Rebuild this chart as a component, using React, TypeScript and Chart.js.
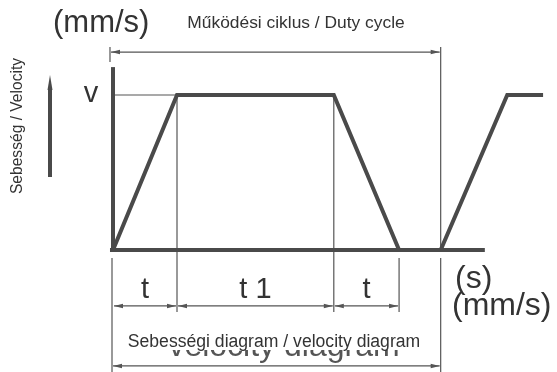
import React, { useEffect, useRef } from 'react';
import { Chart, registerables } from 'chart.js';

Chart.register(...registerables);

// ---- data (time in units of the ramp time t, velocity in units of v) ----
const cycleTimes = [0, 1, 3.45, 4.47];
const cycleVelocity = [0, 1, 1, 0];
const nextTimes = [5.12, 6.16, 6.72];
const nextVelocity = [0, 1, 1];
const axisTime = [0, 0];
const axisVelocity = [0, 1.18];
const baseTime = [-0.047, 5.81];
const baseVelocity = [0, 0];
const phaseBounds = [0, 1, 3.45, 4.47];
const phaseLabels = ['t', 't 1', 't'];
const dutyCycleBounds = [-0.047, 5.12];
const diagramBounds = [0, 5.12];

const titleUnit = '(mm/s)';
const dutyLabel = 'Működési ciklus / Duty cycle';
const yLabel = 'Sebesség / Velocity';
const vLabel = 'v';
const timeUnit = '(s)';
const rightUnit = '(mm/s)';
const diagramLabel = 'Sebességi diagram / velocity diagram';
const ghostLabel = 'velocity diagram';

const THICK = '#4a4a4a';
const THIN = '#555555';
const FONT = '"Liberation Sans", Arial, sans-serif';

const pts = (xs: number[], ys: number[]) => xs.map((x, i) => ({ x, y: ys[i] }));

const diagramPlugin = {
  id: 'diagram',
  beforeDatasetsDraw(chart: any) {
    const { ctx, scales } = chart;
    const X = (t: number) => scales.x.getPixelForValue(t);
    const Y = (v: number) => scales.y.getPixelForValue(v);
    const seg = (x1: number, y1: number, x2: number, y2: number) => {
      ctx.beginPath();
      ctx.moveTo(x1, y1);
      ctx.lineTo(x2, y2);
      ctx.stroke();
    };
    ctx.save();
    ctx.strokeStyle = THIN;
    ctx.lineWidth = 1.2;
    seg(X(0), Y(1), X(1), Y(1));
    seg(X(phaseBounds[1]), Y(1), X(phaseBounds[1]), Y(-0.4));
    seg(X(phaseBounds[2]), Y(1), X(phaseBounds[2]), Y(-0.4));
    seg(X(phaseBounds[3]), Y(-0.052), X(phaseBounds[3]), Y(-0.4));
    seg(X(phaseBounds[0]) - 1, Y(-0.052), X(phaseBounds[0]) - 1, Y(-0.79));
    seg(X(dutyCycleBounds[1]), Y(1.31), X(dutyCycleBounds[1]), Y(0));
    seg(X(dutyCycleBounds[1]), Y(-0.052), X(dutyCycleBounds[1]), Y(-0.79));
    seg(X(dutyCycleBounds[0]), Y(1.31), X(dutyCycleBounds[0]), Y(1.213));
    ctx.restore();
  },
  afterDraw(chart: any) {
    const { ctx, scales } = chart;
    const X = (t: number) => scales.x.getPixelForValue(t);
    const Y = (v: number) => scales.y.getPixelForValue(v);
    const arrowHead = (tipX: number, y: number, dir: number) => {
      ctx.beginPath();
      ctx.moveTo(tipX, y);
      ctx.lineTo(tipX + dir * 9, y - 2.2);
      ctx.lineTo(tipX + dir * 9, y + 2.2);
      ctx.closePath();
      ctx.fill();
    };
    const dimension = (x1: number, x2: number, y: number) => {
      ctx.beginPath();
      ctx.moveTo(x1 + 1, y);
      ctx.lineTo(x2 - 1, y);
      ctx.stroke();
      arrowHead(x1 + 1, y, 1);
      arrowHead(x2 - 1, y, -1);
    };
    ctx.save();
    ctx.strokeStyle = THIN;
    ctx.fillStyle = THIN;
    ctx.lineWidth = 1.2;

    const phaseY = Y(-0.361);
    for (let i = 0; i < phaseLabels.length; i++) {
      dimension(X(phaseBounds[i]), X(phaseBounds[i + 1]), phaseY);
    }
    dimension(X(dutyCycleBounds[0]), X(dutyCycleBounds[1]), Y(1.277));

    ctx.fillStyle = '#333333';
    ctx.textAlign = 'center';
    ctx.textBaseline = 'alphabetic';
    ctx.font = `29px ${FONT}`;
    for (let i = 0; i < phaseLabels.length; i++) {
      const cx = (X(phaseBounds[i]) + X(phaseBounds[i + 1])) / 2;
      ctx.fillText(phaseLabels[i], cx, 298);
    }
    ctx.fillText(vLabel, 91, 102);

    ctx.textAlign = 'left';
    ctx.font = `31px ${FONT}`;
    ctx.fillText(titleUnit, 53, 32);
    ctx.font = `32px ${FONT}`;
    ctx.fillText(timeUnit, 455, 288);
    ctx.fillText(rightUnit, 452, 315);

    ctx.textAlign = 'center';
    ctx.font = `17.4px ${FONT}`;
    ctx.fillText(dutyLabel, 296, 28);

    // ghost text partly hidden behind the label's background
    ctx.fillStyle = '#555555';
    ctx.font = `32px ${FONT}`;
    ctx.fillText(ghostLabel, 284, 356);
    ctx.fillStyle = '#ffffff';
    ctx.fillRect(118, 318, 318, 32);
    ctx.fillStyle = '#333333';
    ctx.font = `17.6px ${FONT}`;
    ctx.fillText(diagramLabel, 274, 347);

    ctx.fillStyle = THIN;
    dimension(X(diagramBounds[0]) - 1, X(diagramBounds[1]), Y(-0.748));

    ctx.save();
    ctx.translate(18, 126);
    ctx.rotate(-Math.PI / 2);
    ctx.fillStyle = '#333333';
    ctx.font = `15.6px ${FONT}`;
    ctx.textBaseline = 'middle';
    ctx.fillText(yLabel, 0, 0);
    ctx.restore();

    ctx.strokeStyle = THICK;
    ctx.fillStyle = THICK;
    ctx.lineWidth = 4;
    ctx.beginPath();
    ctx.moveTo(50, 177);
    ctx.lineTo(50, 88);
    ctx.stroke();
    ctx.beginPath();
    ctx.moveTo(50, 75);
    ctx.lineTo(47.5, 90);
    ctx.lineTo(52.5, 90);
    ctx.closePath();
    ctx.fill();
    ctx.restore();
  },
};

export default function App() {
  const ref = useRef<HTMLCanvasElement>(null);
  useEffect(() => {
    document.body.style.margin = '0';
    const lineStyle = {
      showLine: true,
      borderColor: THICK,
      backgroundColor: THICK,
      borderWidth: 4,
      pointRadius: 0,
      tension: 0,
      fill: false,
      borderJoinStyle: 'miter' as const,
      borderCapStyle: 'butt' as const,
    };
    const chart = new Chart(ref.current!, {
      type: 'scatter',
      data: {
        datasets: [
          { ...lineStyle, data: pts(axisTime, axisVelocity) },
          { ...lineStyle, data: pts(baseTime, baseVelocity) },
          { ...lineStyle, data: pts(cycleTimes, cycleVelocity) },
          { ...lineStyle, data: pts(nextTimes, nextVelocity) },
        ],
      },
      options: {
        responsive: false,
        animation: false,
        devicePixelRatio: 1,
        layout: { padding: 0 },
        scales: {
          x: { type: 'linear', display: false, min: -113 / 64, max: 444 / 64 },
          y: { type: 'linear', display: false, min: -122 / 155, max: 250 / 155 },
        },
        plugins: { legend: { display: false }, tooltip: { enabled: false } },
      },
      plugins: [diagramPlugin],
    });
    return () => chart.destroy();
  }, []);
  return (
    <div style={{ position: 'fixed', left: 0, top: 0, width: 557, height: 372, background: '#fff' }}>
      <canvas ref={ref} width={557} height={372} style={{ width: 557, height: 372 }} />
    </div>
  );
}
